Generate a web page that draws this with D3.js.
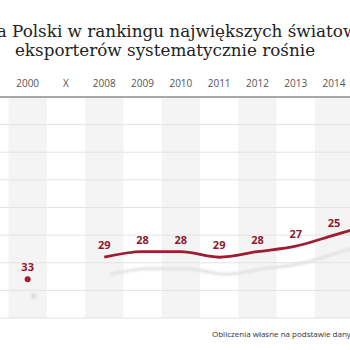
<!DOCTYPE html>
<html>
<head>
<meta charset="utf-8">
<script src="https://cdn.jsdelivr.net/npm/d3@7"></script>
<style>
  body { margin: 0; background: #fff; }
  svg { display: block; overflow: hidden; }
</style>
</head>
<body>
<div id="chart"></div>
<script>
// Data: rank of Poland among world exporters
var years = ["2000", "X", "2008", "2009", "2010", "2011", "2012", "2013", "2014", "2015"];
var lineYears = ["2008", "2009", "2010", "2011", "2012", "2013", "2014", "2015"];
var lineRanks = [29, 28, 28, 29, 28, 27, 25, 23];
var dotYears = ["2000"];
var dotRanks = [33];
var gridTicks = [5, 10, 15, 20, 25, 30, 35, 40];
var titleLines = ["Pozycja Polski w rankingu największych światowych", "eksporterów systematycznie rośnie"];
var sourceText = "Obliczenia własne na podstawie danych WTO";

var width = 350, height = 350;
var red = "#a01c30";

var svg = d3.select("#chart").append("svg")
    .attr("width", width)
    .attr("height", height);

var defs = svg.append("defs");
defs.append("filter").attr("id", "blur")
    .append("feGaussianBlur").attr("stdDeviation", 1.2);

// Scales
var x = d3.scaleBand()
    .domain(years)
    .range([8.5, 8.5 + years.length * 38.3]);

var y = d3.scaleLinear()
    .domain([0, 40])
    .range([97, 318]);

// Alternate column shading
svg.append("g")
    .selectAll("rect")
    .data(years.filter(function(d, i) { return i % 2 === 0; }))
    .enter()
    .append("rect")
    .attr("x", function(d) { return x(d); })
    .attr("y", y(0))
    .attr("width", x.bandwidth())
    .attr("height", y(40) - y(0))
    .style("fill", "#f4f4f4");

// Gridlines
svg.append("g")
    .selectAll("line")
    .data(gridTicks)
    .enter()
    .append("line")
    .attr("x1", 0)
    .attr("x2", width)
    .attr("y1", function(d) { return y(d); })
    .attr("y2", function(d) { return y(d); })
    .style("stroke", "#e3e3e3")
    .style("stroke-width", 1);

// Top axis line
svg.append("line")
    .attr("x1", 0)
    .attr("x2", width)
    .attr("y1", y(0))
    .attr("y2", y(0))
    .style("stroke", "#a8a8a8")
    .style("stroke-width", 2);

// Year labels
var xAxis = svg.append("g")
    .attr("transform", "translate(0," + (y(0) - 10) + ")")
    .call(d3.axisTop(x).tickSize(0).tickPadding(0));
xAxis.select(".domain").remove();
xAxis.selectAll("text")
    .style("font-family", "'Open Sans', sans-serif")
    .style("font-size", "10px")
    .style("fill", "#555");

// Line data
var points = lineYears.map(function(d, i) { return {year: d, rank: lineRanks[i]}; });
var dots = dotYears.map(function(d, i) { return {year: d, rank: dotRanks[i]}; });

var line = d3.line()
    .x(function(d) { return x(d.year) + x.bandwidth() / 2; })
    .y(function(d) { return y(d.rank); })
    .curve(d3.curveMonotoneX);

// Shadow
var shadow = svg.append("g")
    .attr("transform", "translate(6,17)")
    .attr("filter", "url(#blur)");
shadow.append("path")
    .datum(points)
    .attr("d", line)
    .style("fill", "none")
    .style("stroke", "#e2e2e2")
    .style("stroke-width", 3);
shadow.selectAll("circle")
    .data(dots)
    .enter()
    .append("circle")
    .attr("cx", function(d) { return x(d.year) + x.bandwidth() / 2; })
    .attr("cy", function(d) { return y(d.rank); })
    .attr("r", 3)
    .style("fill", "#dedede");

// Main line
svg.append("path")
    .datum(points)
    .attr("d", line)
    .style("fill", "none")
    .style("stroke", red)
    .style("stroke-width", 2.8)
    .style("stroke-linecap", "butt");

svg.selectAll(".dot")
    .data(dots)
    .enter()
    .append("circle")
    .attr("class", "dot")
    .attr("cx", function(d) { return x(d.year) + x.bandwidth() / 2; })
    .attr("cy", function(d) { return y(d.rank); })
    .attr("r", 3)
    .style("fill", red);

// Value labels
svg.selectAll(".val")
    .data(dots.concat(points))
    .enter()
    .append("text")
    .attr("class", "val")
    .attr("x", function(d) { return x(d.year) + x.bandwidth() / 2; })
    .attr("y", function(d) { return y(d.rank) - 8; })
    .attr("text-anchor", "middle")
    .style("font-family", "'Open Sans', sans-serif")
    .style("font-weight", "bold")
    .style("font-size", "11px")
    .style("fill", "#8c1a2e")
    .text(function(d) { return d.rank; });

// Title
svg.append("g")
    .selectAll("text")
    .data(titleLines)
    .enter()
    .append("text")
    .attr("x", 165)
    .attr("y", function(d, i) { return 37 + i * 19; })
    .attr("text-anchor", "middle")
    .style("font-family", "'DejaVu Serif', serif")
    .style("font-size", "16.8px")
    .style("fill", "#222")
    .text(function(d) { return d; });

// Source
svg.append("text")
    .attr("x", 212)
    .attr("y", 337)
    .style("font-family", "'Open Sans', sans-serif")
    .style("font-size", "8px")
    .style("fill", "#333")
    .text(sourceText);
</script>
</body>
</html>
